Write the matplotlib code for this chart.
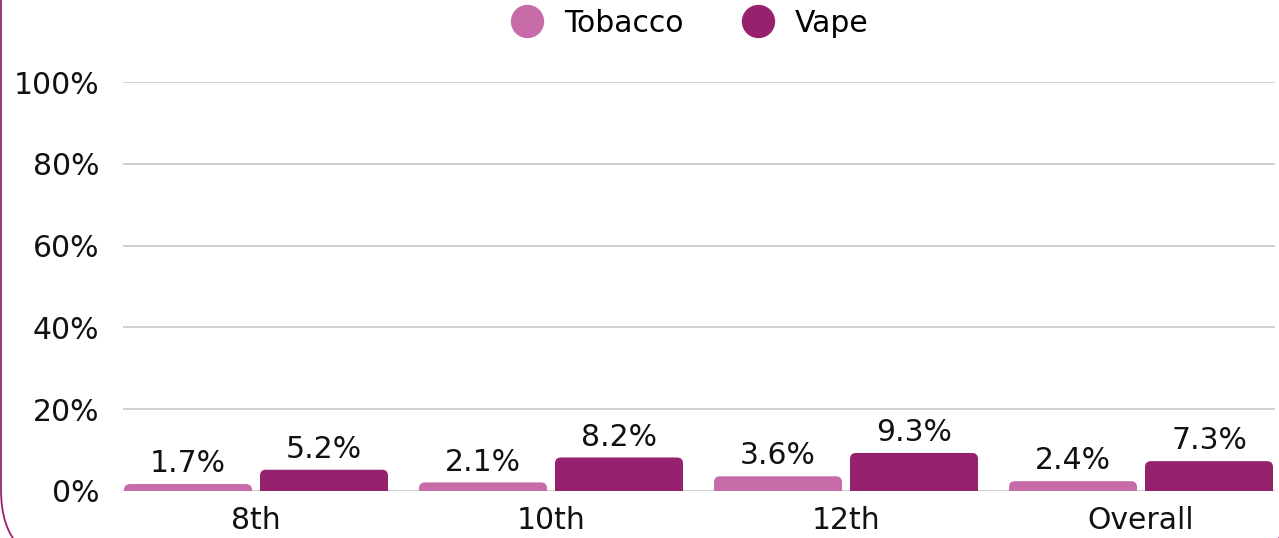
import matplotlib.pyplot as plt
import numpy as np
from matplotlib.patches import FancyBboxPatch
from matplotlib.transforms import IdentityTransform
from matplotlib.lines import Line2D

plt.rcParams['font.family'] = ['DejaVu Sans']

# data
grades = ["8th", "10th", "12th", "Overall"]
tobacco = [1.7, 2.1, 3.6, 2.4]
vape = [5.2, 8.2, 9.3, 7.3]
yticks = [0, 20, 40, 60, 80, 100]

c_tob = "#C76BA8"
c_vape = "#96216E"
fs = 21.5

W, H = 1279, 538
fig = plt.figure(figsize=(W / 100, H / 100), dpi=100)
ax = fig.add_axes([123 / W, (H - 491) / H, (1275 - 123) / W, (491 - 82) / H])

x = np.arange(len(grades))
off = 68 / 295
bw = 128 / 295
r_x = 6 / 295          # corner radius in x data units
px_per_pct = (491 - 82) / 100
r_y = 6 / px_per_pct   # corner radius in y data units

for vals, sign, col in [(tobacco, -1, c_tob), (vape, 1, c_vape)]:
    for xi, v in zip(x, vals):
        left = xi + sign * off - bw / 2
        patch = FancyBboxPatch((left, -r_y), bw, v + r_y,
                               boxstyle=f"round,pad=0,rounding_size={r_x}",
                               mutation_aspect=r_y / r_x,
                               facecolor=col, edgecolor="none", zorder=3)
        ax.add_patch(patch)
        ax.text(xi + sign * off, v + 2.9, f"{v}%", ha="center", va="baseline",
                fontsize=fs, color="#111111", zorder=4)

ax.set_xlim(-(256 - 123) / 295, 3 + (1275 - 1141) / 295)
ax.set_ylim(0, 100)
ax.set_yticks(yticks)
ax.set_yticklabels([f"{t}%" for t in yticks], fontsize=fs, color="#111111")
ax.set_xticks(x)
ax.set_xticklabels(grades, fontsize=fs, color="#111111")
ax.tick_params(axis="y", length=0, pad=17)
ax.tick_params(axis="x", length=0, pad=11)
ax.grid(axis="y", color="#c8c8c8", lw=1.2, zorder=0)
for s in ax.spines.values():
    s.set_visible(False)

handles = [Line2D([], [], marker="o", ls="none", ms=23, color=c_tob, label="Tobacco"),
           Line2D([], [], marker="o", ls="none", ms=23, color=c_vape, label="Vape")]
fig.legend(handles=handles, loc="center", bbox_to_anchor=(683 / W, 1 - 23 / H),
           ncol=2, frameon=False, fontsize=fs, handletextpad=0.25, columnspacing=1.47)

# card border
border = FancyBboxPatch((1, -28), 1290, 900,
                        boxstyle="round,pad=0,rounding_size=76",
                        transform=IdentityTransform(), facecolor="none",
                        edgecolor=c_vape, lw=1.3)
fig.patches.append(border)

fig.savefig("out.png", dpi=100)
